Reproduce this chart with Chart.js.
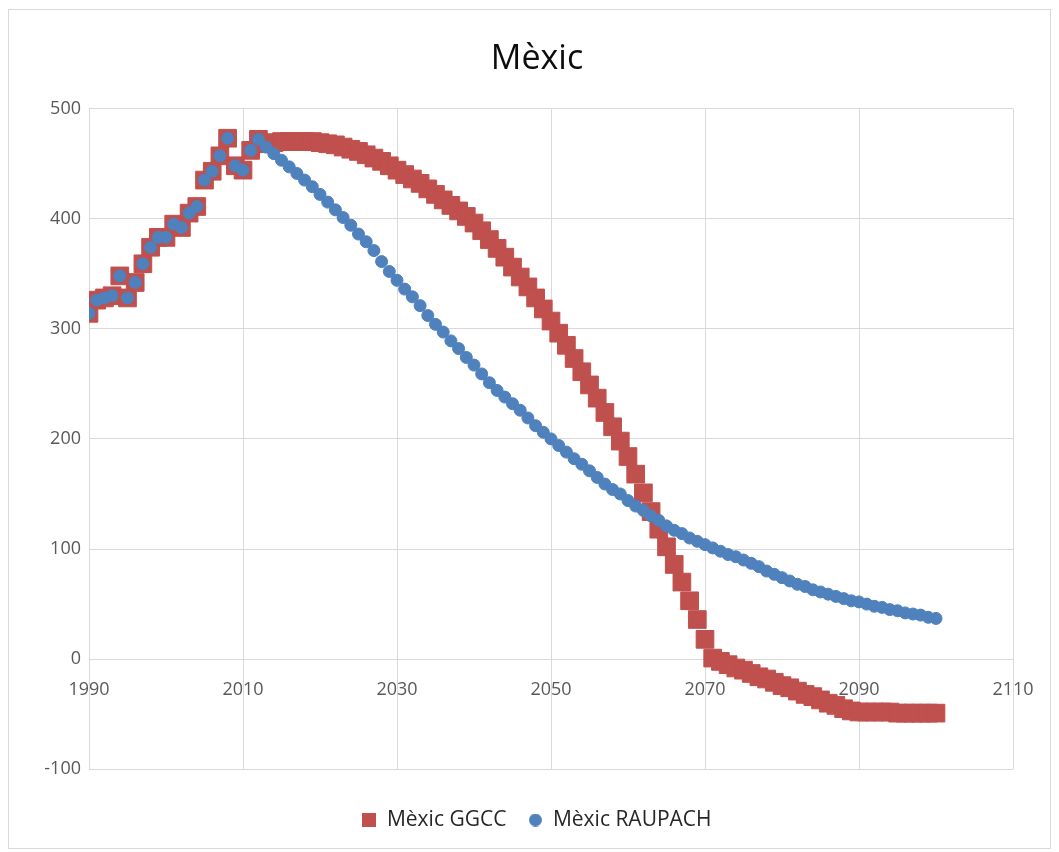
<!DOCTYPE html>
<html>
<head>
<meta charset="utf-8">
<title>Mèxic</title>
<script src="https://cdn.jsdelivr.net/npm/chart.js@4"></script>
<style>
    html, body { margin: 0; padding: 0; background: #fff; }
    #wrap { position: relative; width: 1059px; height: 852px; }
    #frame { position: absolute; left: 8px; top: 9px; width: 1041px; height: 838px; border: 1px solid #d9d9d9; pointer-events: none; }
</style>
</head>
<body>
<div id="wrap">
    <canvas id="chartCanvas"></canvas>
    <div id="frame"></div>
</div>
<script>
    // anys
    var years = [
        1990, 1991, 1992, 1993, 1994, 1995, 1996, 1997, 1998, 1999,
        2000, 2001, 2002, 2003, 2004, 2005, 2006, 2007, 2008, 2009,
        2010, 2011, 2012, 2013, 2014, 2015, 2016, 2017, 2018, 2019,
        2020, 2021, 2022, 2023, 2024, 2025, 2026, 2027, 2028, 2029,
        2030, 2031, 2032, 2033, 2034, 2035, 2036, 2037, 2038, 2039,
        2040, 2041, 2042, 2043, 2044, 2045, 2046, 2047, 2048, 2049,
        2050, 2051, 2052, 2053, 2054, 2055, 2056, 2057, 2058, 2059,
        2060, 2061, 2062, 2063, 2064, 2065, 2066, 2067, 2068, 2069,
        2070, 2071, 2072, 2073, 2074, 2075, 2076, 2077, 2078, 2079,
        2080, 2081, 2082, 2083, 2084, 2085, 2086, 2087, 2088, 2089,
        2090, 2091, 2092, 2093, 2094, 2095, 2096, 2097, 2098, 2099,
        2100
    ];

    // Mèxic GGCC
    var ggcc = [
        314, 326, 328, 330, 348, 328, 342, 359, 374, 383,
        383, 395, 392, 405, 411, 435, 443, 457, 473, 448,
        444, 462, 472, 468, 469, 470, 470, 470, 470, 470,
        469, 468, 467, 465, 463, 461, 458, 455, 452, 448,
        444, 440, 436, 432, 427, 422, 417, 412, 407, 402,
        396, 389, 381, 373, 365, 356, 347, 338, 328, 318,
        307, 296, 285, 273, 261, 249, 237, 224, 211, 198,
        184, 168, 151, 134, 118, 102, 86, 70, 53, 36,
        18, 1, -2, -5, -8, -10, -13, -16, -18, -21,
        -24, -26, -29, -32, -34, -37, -40, -42, -45, -47,
        -48, -48, -48, -48, -48, -49, -49, -49, -49, -49,
        -49
    ];

    // Mèxic RAUPACH
    var raupach = [
        314, 326, 328, 330, 348, 328, 342, 359, 374, 383,
        383, 395, 392, 405, 411, 435, 443, 457, 473, 448,
        444, 462, 472, 465, 459, 453, 447, 441, 435, 429,
        422, 415, 408, 401, 394, 386, 379, 371, 361, 352,
        344, 336, 329, 321, 312, 304, 297, 289, 282, 274,
        267, 259, 251, 244, 238, 232, 226, 219, 212, 206,
        200, 194, 188, 182, 177, 171, 165, 159, 154, 150,
        144, 139, 135, 130, 126, 121, 117, 114, 110, 107,
        104, 101, 98, 95, 93, 90, 87, 84, 80, 77,
        74, 71, 68, 66, 63, 61, 59, 57, 55, 53,
        52, 50, 48, 47, 45, 44, 42, 41, 40, 38,
        37
    ];

    var xTicks = [1990, 2010, 2030, 2050, 2070, 2090, 2110];
    var yTicks = [-100, 0, 100, 200, 300, 400, 500];

    var red = '#C0504D';
    var blue = '#4F81BD';
    var gridColor = '#d9d9d9';
    var font = "'Open Sans', 'Noto Sans', sans-serif";

    function toPoints(values) {
        return values.map(function (v, i) {
            return { x: years[i], y: v };
        });
    }

    // marcadors de la llegenda
    function squareMarker(size, color) {
        var c = document.createElement('canvas');
        c.width = size; c.height = size;
        var ctx = c.getContext('2d');
        ctx.fillStyle = color;
        ctx.fillRect(0, 0, size, size);
        return c;
    }
    function circleMarker(size, color) {
        var c = document.createElement('canvas');
        c.width = size; c.height = size;
        var ctx = c.getContext('2d');
        ctx.fillStyle = color;
        ctx.beginPath();
        ctx.arc(size / 2, size / 2, size / 2, 0, Math.PI * 2);
        ctx.fill();
        return c;
    }
    var legendMarkers = [squareMarker(14, red), circleMarker(13, blue)];

    var ctx = document.getElementById('chartCanvas').getContext('2d');
    window.myChart = new Chart(ctx, {
        type: 'scatter',
        data: {
            datasets: [{
                label: 'Mèxic GGCC',
                data: toPoints(ggcc),
                pointStyle: 'rect',
                pointRadius: 12.5,
                backgroundColor: red,
                borderColor: red,
                borderWidth: 1,
                order: 1
            }, {
                label: 'Mèxic RAUPACH',
                data: toPoints(raupach),
                pointStyle: 'circle',
                pointRadius: 6,
                backgroundColor: blue,
                borderColor: blue,
                borderWidth: 1,
                order: 0
            }]
        },
        options: {
            responsive: true,
            maintainAspectRatio: false,
            animation: false,
            layout: {
                padding: { left: 39, right: 24, top: 17, bottom: 11.5 }
            },
            plugins: {
                tooltip: { enabled: false },
                title: {
                    display: true,
                    text: 'Mèxic',
                    color: '#0d0d0d',
                    font: { family: font, size: 34, weight: 'normal' },
                    padding: { top: 22, bottom: 28.7 }
                },
                legend: {
                    position: 'bottom',
                    title: {
                        display: true,
                        text: '',
                        font: { size: 1 },
                        padding: { top: 17, bottom: 0 }
                    },
                    labels: {
                        usePointStyle: true,
                        boxWidth: 14,
                        boxHeight: 14,
                        padding: 22,
                        color: '#262626',
                        font: { family: font, size: 21 },
                        sort: function (a, b) { return a.datasetIndex - b.datasetIndex; },
                        generateLabels: function (chart) {
                            var items = Chart.defaults.plugins.legend.labels.generateLabels(chart);
                            items.forEach(function (item) {
                                item.pointStyle = legendMarkers[item.datasetIndex];
                            });
                            return items;
                        }
                    }
                }
            },
            scales: {
                x: {
                    type: 'linear',
                    position: { y: 0 },
                    min: xTicks[0],
                    max: xTicks[xTicks.length - 1],
                    afterBuildTicks: function (axis) {
                        axis.ticks = xTicks.map(function (v) { return { value: v }; });
                    },
                    grid: { color: gridColor, drawTicks: false },
                    border: { color: gridColor },
                    ticks: {
                        padding: 20,
                        color: '#595959',
                        font: { family: font, size: 18 },
                        maxRotation: 0,
                        callback: function (v) { return String(v); }
                    }
                },
                y: {
                    type: 'linear',
                    min: yTicks[0],
                    max: yTicks[yTicks.length - 1],
                    afterBuildTicks: function (axis) {
                        axis.ticks = yTicks.map(function (v) { return { value: v }; });
                    },
                    afterFit: function (axis) { axis.width = 50; },
                    grid: { color: gridColor, drawTicks: false },
                    border: { color: gridColor },
                    ticks: {
                        padding: 8,
                        color: '#595959',
                        font: { family: font, size: 18 },
                        callback: function (v) { return String(v); }
                    }
                },
                // espai buit a la dreta, només per centrar el títol com a l'original
                spacer: {
                    type: 'linear',
                    position: 'right',
                    grid: { display: false, drawTicks: false },
                    border: { display: false },
                    ticks: { display: false },
                    afterFit: function (axis) { axis.width = 22; }
                }
            }
        }
    });
</script>
</body>
</html>
